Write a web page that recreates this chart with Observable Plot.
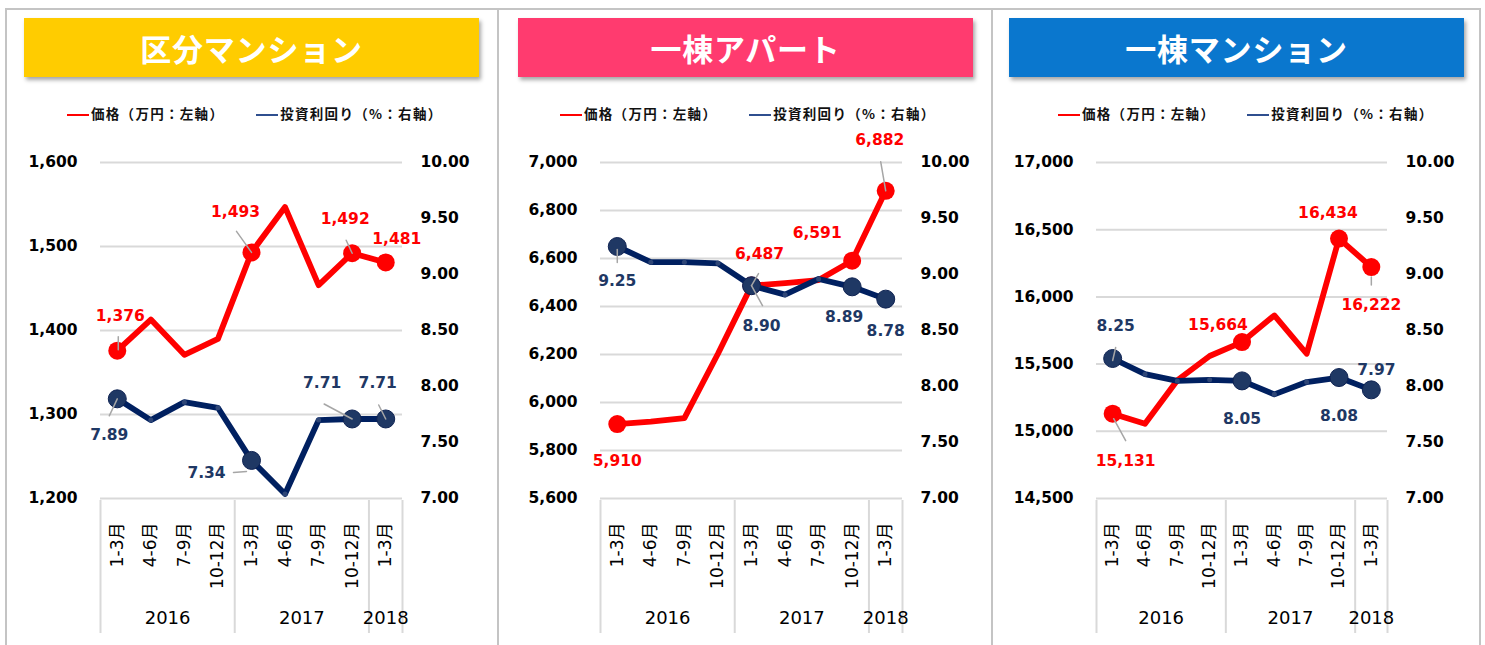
<!DOCTYPE html>
<html>
<head>
<meta charset="utf-8">
<script src="https://cdn.jsdelivr.net/npm/d3@7"></script>
<script src="https://cdn.jsdelivr.net/npm/@observablehq/plot@0.6"></script>
<style>
  html, body { margin: 0; padding: 0; background: #fff; }
  body { width: 1485px; height: 645px; overflow: hidden; position: relative;
         font-family: "DejaVu Sans", "Noto Sans CJK JP", sans-serif; }
  .frame { position: absolute; left: 5px; top: 8px; width: 1476px; height: 700px;
           border: 2px solid #c4c4c4; box-sizing: border-box; }
  .sep { position: absolute; top: 8px; width: 2px; height: 700px; background: #c4c4c4; }
  .header { position: absolute; top: 18px; height: 59px; width: 455px; color: #fff;
            font-family: "Noto Sans CJK JP", sans-serif; font-weight: 700; font-size: 31px;
            display: flex; align-items: center; justify-content: center;
            box-shadow: 2px 3px 4px rgba(0,0,0,0.35); letter-spacing: 0.8px; }
  .legend { position: absolute; top: 103px; height: 20px; display: flex; align-items: center;
            font-family: "Noto Sans CJK JP", sans-serif; font-weight: 700; font-size: 13.5px;
            letter-spacing: 1.3px; color: #111; white-space: nowrap; }
  .legend .item { display: flex; align-items: center; }
  .legend .item + .item { margin-left: 32px; }
  .legend .swatch { width: 22px; height: 2.5px; margin-right: 2px; margin-top: 4px; }
  .chart { position: absolute; top: 130px; }
</style>
</head>
<body>
<div class="frame"></div>
<div class="sep" style="left:497px"></div>
<div class="sep" style="left:991px"></div>
<script>
// ---------------- data ----------------
const quarterLabels = ["1-3月", "4-6月", "7-9月", "10-12月", "1-3月", "4-6月", "7-9月", "10-12月", "1-3月"];
const yearLabels    = ["2016", "2016", "2016", "2016", "2017", "2017", "2017", "2017", "2018"];
const panelTitles   = ["区分マンション", "一棟アパート", "一棟マンション"];
const legendPrice   = "価格（万円：左軸）";
const legendYield   = "投資利回り（%：右軸）";

const kubunPrice    = [1376, 1413, 1371, 1390, 1493, 1547, 1454, 1492, 1481];
const kubunYield    = [7.89, 7.70, 7.86, 7.81, 7.34, 7.04, 7.70, 7.71, 7.71];
const apartPrice    = [5910, 5920, 5935, 6203, 6487, 6497, 6510, 6591, 6882];
const apartYield    = [9.25, 9.11, 9.11, 9.10, 8.90, 8.82, 8.96, 8.89, 8.78];
const mansionPrice  = [15131, 15056, 15380, 15560, 15664, 15862, 15577, 16434, 16222];
const mansionYield  = [8.25, 8.11, 8.05, 8.06, 8.05, 7.93, 8.04, 8.08, 7.97];

const priceDomains  = [[1200, 1600], [5600, 7000], [14500, 17000]];
const priceSteps    = [100, 200, 500];
const yieldDomain   = [7, 10];
const yieldStep     = 0.5;
const labeledIdx    = [0, 4, 7, 8];

// ---------------- style / layout ----------------
const RED = "#FF0000", NAVY = "#002060", NAVY_DOT = "#1F3864", NAVY_TXT = "#1F3864";
const GRID = "#D9D9D9", LEADER = "#A6A6A6";
const FONT = "'DejaVu Sans', 'Noto Sans CJK JP', sans-serif";
const SVG_H = 515, M_TOP = 32, M_BOTTOM = 147, FRAME_H = SVG_H - M_TOP - M_BOTTOM;
const TICK_FS = 15.5, LABEL_FS = 15.5;

const layouts = [
  { left: 5,   width: 493, headerLeft: 19, mL: 95,  pW: 302, legendLeft: 62, color: "#FFCC00",
    priceAnn: [ {i:0, dx:3,   dy:-35, lead:[1,-1,1,-14]},
                {i:4, dx:-16, dy:-40, lead:[0,0,-15,-21]},
                {i:7, dx:-7,  dy:-34, lead:[0,0,-6,-13]},
                {i:8, dx:11,  dy:-23} ],
    yieldAnn: [ {i:0, dx:-8,  dy:36,  lead:[0,0,-8,17]},
                {i:4, dx:-45, dy:13,  lead:[-5,11,-18,12]},
                {i:7, dx:-30, dy:-36, lead:[0,0,-28,-15]},
                {i:8, dx:-8,  dy:-36, lead:[0,0,-7,-14]} ] },
  { left: 498, width: 494, headerLeft: 20, mL: 102, pW: 302, legendLeft: 62, color: "#FF3B6F",
    priceAnn: [ {i:0, dx:0,   dy:37},
                {i:4, dx:8,   dy:-32, lead:[0,0,7,-12]},
                {i:7, dx:-35, dy:-28},
                {i:8, dx:-6,  dy:-51, lead:[0,0,-5,-29]} ],
    yieldAnn: [ {i:0, dx:0,   dy:35,  lead:[0,3,0,16]},
                {i:4, dx:10,  dy:40,  lead:[0,0,11,20]},
                {i:7, dx:-8,  dy:30},
                {i:8, dx:0,   dy:32} ] },
  { left: 992, width: 488, headerLeft: 17, mL: 104, pW: 291, legendLeft: 66, color: "#0A77CE",
    priceAnn: [ {i:0, dx:13,  dy:47,  lead:[1,5,13,27]},
                {i:4, dx:-24, dy:-17},
                {i:7, dx:-11, dy:-26},
                {i:8, dx:0,   dy:38,  lead:[0,10,0,18]} ],
    yieldAnn: [ {i:0, dx:3,   dy:-32, lead:[0,2,3,-11]},
                {i:4, dx:0,   dy:38},
                {i:7, dx:0,   dy:38},
                {i:8, dx:5,   dy:-20} ] }
];
const priceSeries = [kubunPrice, apartPrice, mansionPrice];
const yieldSeries = [kubunYield, apartYield, mansionYield];

const lineShape = { draw(ctx, l) { ctx.moveTo(0, 0); ctx.lineTo(0, -l); } };
function leader(row, yKey, lead) {
  const [a, b, c, d] = lead;
  return Plot.vector([row], {
    x: "i", y: yKey, dx: a, dy: b, anchor: "start",
    length: Math.hypot(c - a, d - b),
    rotate: Math.atan2(c - a, -(d - b)) * 180 / Math.PI,
    shape: lineShape, stroke: LEADER, strokeWidth: 1.5
  });
}

function buildPanel(k) {
  const L = layouts[k];
  const domain = priceDomains[k];
  const yMap = d3.scaleLinear(yieldDomain, domain);
  const rows = quarterLabels.map((q, i) => ({ i, price: priceSeries[k][i], yld: yieldSeries[k][i], ym: yMap(yieldSeries[k][i]) }));
  const leftTicks = d3.range(domain[0], domain[1] + 1e-9, priceSteps[k]);
  const rightTicks = d3.range(yieldDomain[0], yieldDomain[1] + 1e-9, yieldStep);
  const groups = d3.groups(rows, r => yearLabels[r.i]).map(([year, rs]) => ({
    year, first: rs[0].i, last: rs[rs.length - 1].i, center: (rs[0].i + rs[rs.length - 1].i) / 2
  }));
  const bounds = [groups[0].first - 0.5, ...groups.map(g => g.last + 0.5)];
  const lab = rows.filter(r => labeledIdx.includes(r.i));
  const unlab = rows.filter(r => !labeledIdx.includes(r.i));

  const marks = [
    Plot.ruleY(leftTicks, { stroke: GRID, strokeWidth: 2 }),
    Plot.ruleX(bounds, { insetTop: FRAME_H + 2, insetBottom: -135, stroke: GRID, strokeWidth: 2 }),
    Plot.axisY(leftTicks, { anchor: "left", tickSize: 0, tickPadding: 23, tickFormat: d3.format(","),
      fontSize: TICK_FS, fontWeight: "bold", label: null }),
    Plot.axisY(rightTicks.map(yMap), { anchor: "right", tickSize: 0, tickPadding: 18,
      tickFormat: d => yMap.invert(d).toFixed(2), fontSize: TICK_FS, fontWeight: "bold", label: null }),
    Plot.axisX(d3.range(quarterLabels.length), { tickFormat: i => quarterLabels[i], tickRotate: -90,
      tickSize: 0, tickPadding: 24, fontSize: 17, label: null }),
    Plot.text(groups, { x: "center", text: "year", frameAnchor: "bottom", dy: 125, fontSize: 18 }),
    Plot.line(rows, { x: "i", y: "price", stroke: RED, strokeWidth: 5.8 }),
    Plot.dot(lab, { x: "i", y: "price", r: 9, fill: RED }),
    Plot.line(rows, { x: "i", y: "ym", stroke: NAVY, strokeWidth: 5.8 }),
    Plot.dot(unlab, { x: "i", y: "ym", r: 2.5, fill: "#2E4677" }),
    Plot.dot(lab, { x: "i", y: "ym", r: 9, fill: NAVY_DOT, stroke: "#0E2252", strokeWidth: 1 })
  ];
  for (const a of L.priceAnn) {
    const row = rows[a.i];
    if (a.lead) marks.push(leader(row, "price", a.lead));
    marks.push(Plot.text([row], { x: "i", y: "price", text: d => d3.format(",")(d.price), dx: a.dx, dy: a.dy,
      fill: RED, fontSize: LABEL_FS, fontWeight: "bold" }));
  }
  for (const a of L.yieldAnn) {
    const row = rows[a.i];
    if (a.lead) marks.push(leader(row, "ym", a.lead));
    marks.push(Plot.text([row], { x: "i", y: "ym", text: d => d.yld.toFixed(2), dx: a.dx, dy: a.dy,
      fill: NAVY_TXT, fontSize: LABEL_FS, fontWeight: "bold" }));
  }

  const svg = Plot.plot({
    width: L.width, height: SVG_H,
    marginLeft: L.mL, marginRight: L.width - L.mL - L.pW, marginTop: M_TOP, marginBottom: M_BOTTOM,
    x: { domain: [-0.5, quarterLabels.length - 0.5] },
    y: { domain },
    style: { fontFamily: FONT, background: "transparent", overflow: "visible", color: "#000" },
    marks
  });

  const wrap = document.createElement("div");
  wrap.className = "chart";
  wrap.style.left = L.left + "px";
  wrap.style.width = L.width + "px";
  wrap.appendChild(svg);
  document.body.appendChild(wrap);

  const header = document.createElement("div");
  header.className = "header";
  header.style.left = (L.left + L.headerLeft) + "px";
  header.style.background = L.color;
  header.textContent = panelTitles[k];
  document.body.appendChild(header);

  const legend = document.createElement("div");
  legend.className = "legend";
  legend.style.left = (L.left + L.legendLeft) + "px";
  legend.innerHTML =
    `<div class="item"><div class="swatch" style="background:${RED}"></div><span>${legendPrice}</span></div>` +
    `<div class="item"><div class="swatch" style="background:#2F4F8F"></div><span>${legendYield}</span></div>`;
  document.body.appendChild(legend);
}

[0, 1, 2].forEach(buildPanel);
</script>
</body>
</html>
